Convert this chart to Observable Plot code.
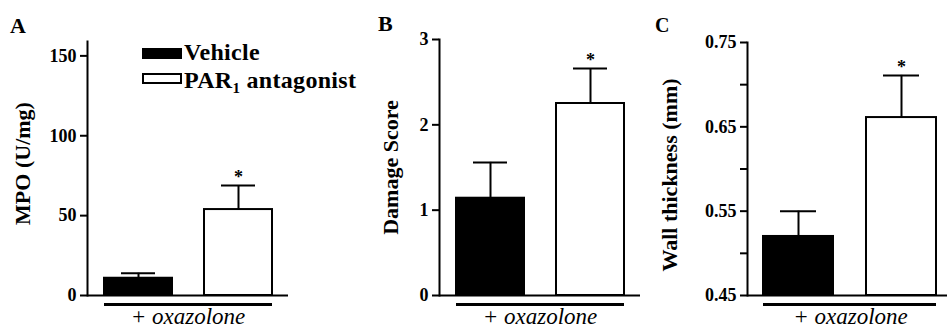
<!DOCTYPE html>
<html><head><meta charset="utf-8">
<script src="https://cdn.jsdelivr.net/npm/d3@7"></script>
<script src="https://cdn.jsdelivr.net/npm/@observablehq/plot@0.6"></script>
<style>
html,body{margin:0;padding:0;background:#fff;overflow:hidden;}
#chart{position:relative;width:947px;height:331px;overflow:hidden;font-family:"Liberation Serif",serif;font-weight:bold;color:#000;}
.abs{position:absolute;line-height:1;white-space:nowrap;}
#chart svg{position:absolute;top:0;}
#chart svg text{font-family:"Liberation Serif",serif;}
</style></head><body><div id="chart"></div>
<script>
// ---- data ----
const groups = ["Vehicle", "PAR1 antagonist"];
const fills = ["#000000", "#ffffff"];
const significance = ["", "*"];
const mpoMean = [10.8, 53.8];
const mpoSem = [3.1, 15.0];
const damageMean = [1.14, 2.25];
const damageSem = [0.42, 0.41];
const wallMean = [0.520, 0.661];
const wallSem = [0.030, 0.050];
const ticksA = [0, 50, 100, 150];
const tickLabelsA = ["0", "50", "100", "150"];
const ticksB = [0, 1, 2, 3];
const tickLabelsB = ["0", "1", "2", "3"];
const ticksC = [0.45, 0.50, 0.55, 0.60, 0.65, 0.70, 0.75];
const tickLabelsC = ["0.45", "", "0.55", "", "0.65", "", "0.75"];
const yLabels = ["MPO (U/mg)", "Damage Score", "Wall thickness (mm)"];
const panelLetters = ["A", "B", "C"];
const groupLabel = "+ oxazolone";

// ---- layout ----
const layouts = [
  {left: 0,   width: 300, marginLeft: 87,  marginRight: 12, marginTop: 41, domain: [0, 159],     labelDx: -65, labelDy: -5},
  {left: 300, width: 345, marginLeft: 139, marginRight: 5,  marginTop: 39, domain: [0, 3],       labelDx: -49, labelDy: 0},
  {left: 645, width: 310, marginLeft: 102, marginRight: 2,  marginTop: 42, domain: [0.45, 0.75], labelDx: -78, labelDy: 6}
];
const chart = document.getElementById("chart");
const serif = "'Liberation Serif', serif";

function panel(means, sems, ticks, tickLabels, yLabel, L) {
  const data = groups.map((g, i) => ({group: g, mean: means[i], top: means[i] + sems[i], fill: fills[i], sig: significance[i]}));
  const base = L.domain[0];
  const svg = Plot.plot({
    width: L.width, height: 331,
    marginLeft: L.marginLeft, marginRight: L.marginRight, marginTop: L.marginTop, marginBottom: 36,
    x: {type: "band", domain: groups, paddingInner: 0.32, paddingOuter: 0.16, axis: null},
    y: {domain: L.domain},
    color: {type: "identity"},
    style: {fontFamily: serif, fontWeight: "bold", fontSize: "18px", color: "#000", background: "transparent", overflow: "visible"},
    marks: [
      Plot.barY(data, {x: "group", y1: base, y2: "mean", fill: "fill", stroke: "#000", strokeWidth: 2}),
      Plot.ruleX(data, {x: "group", y1: "mean", y2: "top", stroke: "#000", strokeWidth: 2}),
      Plot.tickY(data, {x: "group", y: "top", inset: 17, stroke: "#000", strokeWidth: 2}),
      Plot.text(data.filter(d => d.sig), {x: "group", y: "top", text: "sig", dy: -8, fontSize: 18, fontFamily: serif}),
      Plot.frame({anchor: "left", stroke: "#000", strokeWidth: 2}),
      Plot.ruleY([base], {stroke: "#000", strokeWidth: 2}),
      Plot.axisY({ticks, tickFormat: d => tickLabels[ticks.indexOf(d)], tickSize: 7, tickPadding: 4, label: null, fontSize: 18, fontFamily: serif, fontWeight: "bold", stroke: "#000", strokeWidth: 2}),
      Plot.ruleY([base], {x1: () => groups[0], x2: () => groups[groups.length - 1], dy: 9, stroke: "#000", strokeWidth: 3}),
      Plot.text([groupLabel], {text: d => d, frameAnchor: "bottom", lineAnchor: "middle", dy: 21, fontStyle: "italic", fontWeight: "normal", fontSize: 23, fontFamily: serif}),
      Plot.text([yLabel], {text: d => d, frameAnchor: "left", textAnchor: "middle", lineAnchor: "middle", rotate: -90, dx: L.labelDx, dy: L.labelDy, fontSize: 22, fontFamily: serif})
    ]
  });
  svg.style.left = L.left + "px";
  chart.appendChild(svg);
}

panel(mpoMean, mpoSem, ticksA, tickLabelsA, yLabels[0], layouts[0]);
panel(damageMean, damageSem, ticksB, tickLabelsB, yLabels[1], layouts[1]);
panel(wallMean, wallSem, ticksC, tickLabelsC, yLabels[2], layouts[2]);

// panel letters
const letterPos = [{left: 10, top: 14.6, size: 22}, {left: 378, top: 12.6, size: 22}, {left: 655, top: 15.3, size: 20}];
panelLetters.forEach((t, i) => {
  const d = document.createElement("div");
  d.className = "abs";
  d.textContent = t;
  d.style.left = letterPos[i].left + "px";
  d.style.top = letterPos[i].top + "px";
  d.style.fontSize = letterPos[i].size + "px";
  chart.appendChild(d);
});

// legend
const legendRows = [
  {label: "Vehicle", sub: "", fill: fills[0]},
  {label: "PAR", sub: "1", rest: " antagonist", fill: fills[1]}
];
const legendTop = [39.9, 67.9];
const swatchTop = [48, 73];
legendRows.forEach((r, i) => {
  const sw = document.createElement("div");
  sw.style.cssText = `position:absolute;left:142px;top:${swatchTop[i]}px;width:40px;height:11px;box-sizing:border-box;border:2px solid #000;background:${r.fill};`;
  chart.appendChild(sw);
  const t = document.createElement("div");
  t.className = "abs";
  t.style.cssText += `left:184px;top:${legendTop[i]}px;font-size:24px;letter-spacing:0.3px;`;
  t.innerHTML = r.label + (r.sub ? `<span style="font-size:15px;position:relative;top:5px;">${r.sub}</span>` + r.rest : "");
  chart.appendChild(t);
});
</script></body></html>
